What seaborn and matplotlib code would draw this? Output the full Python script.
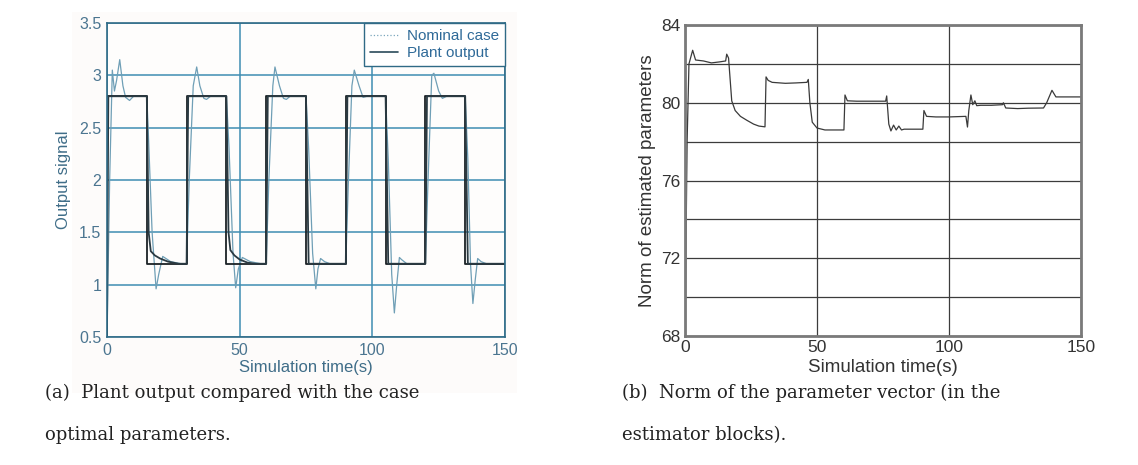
import numpy as np
import pandas as pd
import matplotlib
matplotlib.use("Agg")
import matplotlib.pyplot as plt
from matplotlib.lines import Line2D
from matplotlib.patches import Rectangle
import seaborn as sns

# ---------------------------------------------------------------
# (a) plant output vs nominal case
setpoint_t = [0, 15, 15, 30, 30, 45, 45, 60, 60, 75, 75, 90, 90, 105, 105, 120, 120, 135, 135, 150]
setpoint_y = [2.8, 2.8, 1.2, 1.2, 2.8, 2.8, 1.2, 1.2, 2.8, 2.8, 1.2, 1.2, 2.8, 2.8, 1.2, 1.2, 2.8, 2.8, 1.2, 1.2]

plant_t = [0, 0.5, 15, 15.7, 16.5, 18, 20, 23, 27, 30, 30.6, 45, 45.8, 46.5, 48, 50, 53, 56, 60,
           60.6, 75, 76, 90, 90.6, 105, 106, 120, 120.6, 135, 136, 150]
plant_y = [0.5, 2.8, 2.8, 1.5, 1.32, 1.28, 1.25, 1.22, 1.2, 1.2, 2.8, 2.8, 1.5, 1.33, 1.28, 1.24, 1.21, 1.2, 1.2,
           2.8, 2.8, 1.2, 1.2, 2.8, 2.8, 1.2, 1.2, 2.8, 2.8, 1.2, 1.2]

nominal_t = [0, 1, 2, 2.8, 3.6, 4.8, 6, 7, 8.5, 10, 15, 15.5, 17, 18.5, 19.5, 21, 24, 28,
             30, 31, 32.5, 33.8, 35, 36.5, 37.5, 39, 45, 46, 47.5, 48.5, 49.5, 51, 54, 58,
             60, 61, 62.5, 63.3, 65, 66.5, 67.6, 69, 75, 76, 77.5, 78.7, 79.5, 80.5, 82, 84,
             90, 91, 92.3, 93.2, 95, 96.5, 98, 105, 106, 107.3, 108.3, 109.2, 110.2, 111, 113,
             120, 121, 122.4, 123.2, 125, 126.4, 128, 135, 136, 137, 137.9, 138.8, 139.7, 141, 143, 150]
nominal_y = [0.5, 2.0, 3.05, 2.85, 2.95, 3.15, 2.9, 2.79, 2.76, 2.8, 2.8, 2.5, 1.5, 0.96, 1.1, 1.27, 1.22, 1.2,
             1.2, 2.0, 2.9, 3.08, 2.9, 2.78, 2.77, 2.8, 2.8, 2.3, 1.3, 0.97, 1.15, 1.26, 1.22, 1.2,
             1.2, 2.0, 2.9, 3.08, 2.9, 2.78, 2.77, 2.8, 2.8, 2.3, 1.3, 0.96, 1.15, 1.25, 1.22, 1.2,
             1.2, 2.0, 2.9, 3.05, 2.9, 2.79, 2.8, 2.8, 2.2, 1.1, 0.73, 1.0, 1.26, 1.24, 1.2,
             1.2, 2.0, 3.0, 3.02, 2.85, 2.78, 2.8, 2.8, 2.2, 1.2, 0.82, 1.05, 1.25, 1.22, 1.2, 1.2]

# (b) norm of estimated parameter vector
norm_t = [0, 0.8, 1.5, 2.9, 4, 7, 10, 13, 15.4, 15.8, 16.5, 17.7, 19, 21, 23.4, 26, 28, 30.3,
          30.7, 31.5, 33, 38, 42, 46.2, 46.7, 47.3, 48.2, 50, 53, 57, 60.2,
          60.6, 61.5, 65, 70, 76, 76.4, 77.2, 78, 79, 80, 81, 82, 83, 86, 90.1,
          90.5, 91.5, 95, 100, 106.4, 107, 107.5, 108.3, 109, 109.8, 110.5, 112, 116, 120.3,
          120.6, 121.5, 126, 130, 135.8, 137, 139, 140.5, 143, 150]
norm_y = [68, 78, 82.0, 82.7, 82.2, 82.15, 82.05, 82.1, 82.15, 82.5, 82.3, 80.1, 79.6, 79.3, 79.1, 78.9, 78.8, 78.76,
          81.33, 81.15, 81.05, 81.0, 81.02, 81.05, 81.2, 80.0, 79.0, 78.7, 78.6, 78.6, 78.6,
          80.4, 80.1, 80.08, 80.08, 80.08, 80.35, 78.9, 78.55, 78.85, 78.6, 78.8, 78.6, 78.64, 78.64, 78.64,
          79.6, 79.3, 79.27, 79.27, 79.3, 78.75, 79.6, 80.4, 79.9, 80.1, 79.85, 79.87, 79.87, 79.9,
          80.0, 79.73, 79.7, 79.72, 79.73, 80.0, 80.64, 80.3, 80.3, 80.3]

sp = pd.DataFrame({"t": setpoint_t, "y": setpoint_y})
plant = pd.DataFrame({"t": plant_t, "y": plant_y})
nominal = pd.DataFrame({"t": nominal_t, "y": nominal_y})
norm = pd.DataFrame({"t": norm_t, "y": norm_y})

sns.set_theme(style="white")
plt.rcParams["font.family"] = ["Liberation Sans", "DejaVu Sans"]

fig = plt.figure(figsize=(11.38, 4.65), dpi=100)

# faint scanned background behind panel (a)
fig.patches.append(Rectangle((72 / 1138, 1 - 393 / 465), 445 / 1138, 381 / 465,
                             transform=fig.transFigure, facecolor="#fdfbfa", edgecolor="none", zorder=-5))

# ---------------------------------------------------------------
# Panel (a)
teal = "#3f8db2"
blue_txt = "#4b7590"
ax1 = fig.add_axes([107 / 1138, 1 - 337 / 465, 398 / 1138, 314 / 465])
ax1.set_facecolor("#fefdfc")
sns.lineplot(data=nominal, x="t", y="y", ax=ax1, estimator=None, sort=False, color="#6f9fb6", lw=0.9)
sns.lineplot(data=sp, x="t", y="y", ax=ax1, estimator=None, sort=False, color="#1c2226", lw=1.3)
sns.lineplot(data=plant, x="t", y="y", ax=ax1, estimator=None, sort=False, color="#2a3a42", lw=1.3)
ax1.set_xlim(0, 150)
ax1.set_ylim(0.5, 3.5)
ax1.set_xticks([0, 50, 100, 150])
ax1.set_yticks([0.5, 1, 1.5, 2, 2.5, 3, 3.5])
ax1.set_yticklabels(["0.5", "1", "1.5", "2", "2.5", "3", "3.5"])
ax1.grid(True, color=teal, lw=1.1)
for s in ax1.spines.values():
    s.set_color("#2f6a86")
    s.set_linewidth(1.2)
ax1.tick_params(colors=blue_txt, labelsize=11.5, length=0, pad=4)
ax1.set_xlabel("Simulation time(s)", color="#3f6d88", fontsize=12, labelpad=2)
ax1.set_ylabel("Output signal", color="#3f6d88", fontsize=12, labelpad=6)
handles = [Line2D([], [], color="#7aa6bc", lw=0.9, ls=":"),
           Line2D([], [], color="#2a4a5a", lw=1.2)]
leg = ax1.legend(handles, ["Nominal case", "Plant output"], loc="upper right", borderaxespad=0,
                 fontsize=11, frameon=True, fancybox=False, framealpha=1, handlelength=1.8,
                 handletextpad=0.6, borderpad=0.4, labelspacing=0.2)
leg.get_frame().set_edgecolor("#2f6a86")
leg.get_frame().set_linewidth(1.0)
for txt in leg.get_texts():
    txt.set_color("#2f6a98")

# ---------------------------------------------------------------
# Panel (b)
ax2 = fig.add_axes([685 / 1138, 1 - 336 / 465, 396 / 1138, 311 / 465])
sns.lineplot(data=norm, x="t", y="y", ax=ax2, estimator=None, sort=False, color="#3a3a3a", lw=0.9)
ax2.set_xlim(0, 150)
ax2.set_ylim(68, 84)
ax2.set_xticks([0, 50, 100, 150])
ax2.set_yticks([68, 70, 72, 74, 76, 78, 80, 82, 84])
ax2.set_yticklabels(["68", "", "72", "", "76", "", "80", "", "84"])
ax2.grid(True, color="#3c3c3c", lw=0.9)
for s in ax2.spines.values():
    s.set_color("#7a7a7a")
    s.set_linewidth(2.0)
ax2.tick_params(colors="#333333", labelsize=12.5, length=0, pad=3)
ax2.set_xlabel("Simulation time(s)", color="#333333", fontsize=13.5, labelpad=3)
ax2.set_ylabel("Norm of estimated parameters", color="#333333", fontsize=13.5, labelpad=4)

# ---------------------------------------------------------------
# captions
cap = dict(fontsize=13, family=["DejaVu Serif"], color="#222222", va="baseline")
fig.text(45 / 1138, 1 - 398 / 465, "(a)  Plant output compared with the case", **cap)
fig.text(45 / 1138, 1 - 440 / 465, "optimal parameters.", **cap)
fig.text(622 / 1138, 1 - 398 / 465, "(b)  Norm of the parameter vector (in the", **cap)
fig.text(622 / 1138, 1 - 440 / 465, "estimator blocks).", **cap)

fig.savefig("out.png", dpi=100, facecolor="white")
